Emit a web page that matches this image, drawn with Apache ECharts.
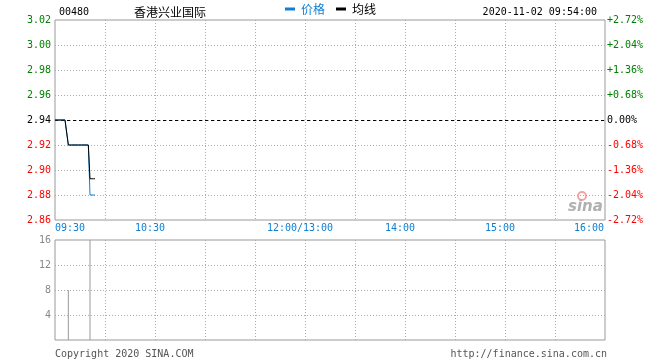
<!DOCTYPE html>
<html>
<head>
<meta charset="utf-8">
<script src="https://cdn.jsdelivr.net/npm/echarts@6/dist/echarts.min.js"></script>
<style>html,body{margin:0;padding:0;background:#fff}#c{width:660px;height:360px}</style>
</head>
<body>
<div id="c"></div>
<script>
const stockCode = '00480';
const stockName = '香港兴业国际';
const stamp = '2020-11-02 09:54:00';
const prevClose = 2.94;
const times = ['09:30','09:31','09:32','09:33','09:34','09:35','09:36','09:37','09:38','09:39','09:40','09:41','09:42','09:43','09:44','09:45','09:46','09:47','09:48','09:49','09:50','09:51','09:52','09:53','09:54'];
const prices = [2.94,2.94,2.94,2.94,2.94,2.94,2.94,2.94,2.92,2.92,2.92,2.92,2.92,2.92,2.92,2.92,2.92,2.92,2.92,2.92,2.92,2.88,2.88,2.88,2.88];
const avgPrices = [2.94,2.94,2.94,2.94,2.94,2.94,2.94,2.94,2.92,2.92,2.92,2.92,2.92,2.92,2.92,2.92,2.92,2.92,2.92,2.92,2.92,2.893,2.893,2.893,2.893];
const volumes = [0,0,0,0,0,0,0,0,8,0,0,0,0,0,0,0,0,0,0,0,0,16,0,0,0];
const tickMinutes = [0,60,150,210,270,330];
const tickLabels = ['09:30','10:30','12:00/13:00','14:00','15:00','16:00'];
const priceMin = 2.86, priceMax = 3.02, priceStep = 0.02;
const volMax = 16, volStep = 4;

const BLUE = '#0e7fd2', GREEN = '#008000', RED = '#ff0000';
const MONO = 'DejaVu Sans Mono';
const CJK = 'Noto Sans CJK SC';

function toMinute(t){
  const p = t.split(':');
  let m = (+p[0])*60 + (+p[1]) - 570;
  if (m > 150) m -= 60;
  return m;
}
const pctMax = (priceMax - prevClose)/prevClose*100;
const pctMin = (priceMin - prevClose)/prevClose*100;
const pctStep = priceStep/prevClose*100;

const chart = echarts.init(document.getElementById('c'), null, {renderer:'canvas'});
const dotted = {color:'#aaa', type:[1,2], width:1};
chart.setOption({
  animation:false,
  backgroundColor:'#fff',
  title:[
    {text:stockCode, left:54, top:2, textStyle:{fontFamily:MONO, fontSize:10, fontWeight:'normal', color:'#000'}},
    {text:stockName, left:129, top:1, textStyle:{fontFamily:CJK, fontSize:12, fontWeight:'normal', color:'#000'}},
    {text:stamp, right:58, top:2, textStyle:{fontFamily:MONO, fontSize:10, fontWeight:'normal', color:'#000'}}
  ],
  legend:{
    left:285, top:3, icon:'rect', itemWidth:10, itemHeight:3, itemGap:11, padding:0,
    textStyle:{fontFamily:CJK, fontSize:12, padding:[0,0,0,1]},
    data:[{name:'价格', textStyle:{color:BLUE}},{name:'均线', textStyle:{color:'#000'}}]
  },
  grid:[
    {left:55, right:55, top:20, height:200, show:true, borderColor:'#999', borderWidth:1},
    {left:55, right:55, top:240, height:100, show:true, borderColor:'#999', borderWidth:1}
  ],
  xAxis:[
    {type:'value', gridIndex:0, min:0, max:330, interval:30,
     axisLine:{show:false}, axisTick:{show:false},
     splitLine:{show:true, lineStyle:dotted, showMinLine:false, showMaxLine:false},
     axisLabel:{show:true, margin:3, fontFamily:MONO, fontSize:10, color:BLUE,
       formatter:function(v){
         const i = tickMinutes.indexOf(Math.round(v));
         if (i < 0) return '';
         const s = tickLabels[i];
         if (i === 0) return '{l|' + s + '}';
         if (i === tickMinutes.length-1) return '{r|' + s + '}';
         return '{c|' + s + '}';
       },
       rich:{
         l:{fontFamily:MONO, fontSize:10, color:BLUE, padding:[0,0,0,30]},
         r:{fontFamily:MONO, fontSize:10, color:BLUE, padding:[0,32,0,0]},
         c:{fontFamily:MONO, fontSize:10, color:BLUE, padding:[0,10,0,0]}
       }}
    },
    {type:'value', gridIndex:1, min:0, max:330, interval:30,
     axisLine:{show:false}, axisTick:{show:false}, axisLabel:{show:false},
     splitLine:{show:true, lineStyle:dotted, showMinLine:false, showMaxLine:false}}
  ],
  yAxis:[
    {type:'value', gridIndex:0, min:priceMin, max:priceMax, interval:priceStep,
     axisLine:{show:false}, axisTick:{show:false},
     splitLine:{show:true, lineStyle:dotted, showMinLine:false, showMaxLine:false},
     axisLabel:{margin:4, fontFamily:MONO, fontSize:10, padding:[0,0,5,0],
       formatter:function(v){return v.toFixed(2);},
       color:function(v){ v=+v; if (Math.abs(v-prevClose)<1e-6) return '#000'; return v>prevClose?GREEN:RED; }}
    },
    {type:'value', gridIndex:0, position:'right', min:pctMin, max:pctMax, interval:pctStep,
     axisLine:{show:false}, axisTick:{show:false}, splitLine:{show:false},
     axisLabel:{margin:2, fontFamily:MONO, fontSize:10, padding:[0,0,6,0],
       formatter:function(v){ if (Math.abs(v)<1e-6) return '0.00%'; return (v>0?'+':'') + v.toFixed(2) + '%'; },
       color:function(v){ v=+v; if (Math.abs(v)<1e-6) return '#000'; return v>0?GREEN:RED; }}
    },
    {type:'value', gridIndex:1, min:0, max:volMax, interval:volStep,
     axisLine:{show:false}, axisTick:{show:false},
     splitLine:{show:true, lineStyle:dotted, showMinLine:false, showMaxLine:false},
     axisLabel:{margin:4, fontFamily:MONO, fontSize:10, color:'#888', padding:[0,0,5,0],
       formatter:function(v){ return v===0 ? '' : String(v); }}
    }
  ],
  series:[
    {name:'价格', type:'line', xAxisIndex:0, yAxisIndex:0, symbol:'none', z:3,
     lineStyle:{color:BLUE, width:1}, itemStyle:{color:BLUE},
     data:times.map((t,i)=>[toMinute(t), prices[i]]),
     markLine:{silent:true, symbol:'none', label:{show:false}, z:1,
       lineStyle:{color:'#000', type:[3,3], width:1},
       data:[{yAxis:prevClose}]}},
    {name:'均线', type:'line', xAxisIndex:0, yAxisIndex:0, symbol:'none', z:4,
     lineStyle:{color:'#000', width:1}, itemStyle:{color:'#000'},
     data:times.map((t,i)=>[toMinute(t), avgPrices[i]])},
    {name:'成交量', type:'bar', xAxisIndex:1, yAxisIndex:2, barWidth:1,
     itemStyle:{color:'#999'},
     data:times.map((t,i)=>[toMinute(t), volumes[i]])}
  ],
  graphic:[
    {type:'text', left:55, top:349, style:{text:'Copyright 2020 SINA.COM', font:'10px "DejaVu Sans Mono"', fill:'#555'}},
    {type:'text', right:53, top:349, style:{text:'http://finance.sina.com.cn', font:'10px "DejaVu Sans Mono"', fill:'#555'}},
    {type:'circle', shape:{cx:582, cy:196, r:4}, style:{fill:'none', stroke:'#f3a4a4', lineWidth:2}, z:0},
    {type:'text', left:568, top:200, z:0, style:{text:'sina', font:'italic bold 15px "DejaVu Sans"', fill:'#b0b0b0'}}
  ]
});
</script>
</body>
</html>
